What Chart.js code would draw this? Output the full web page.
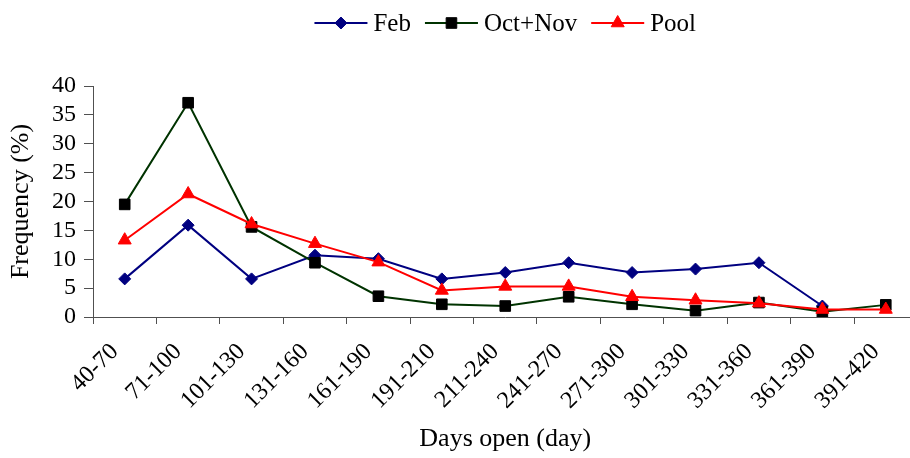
<!DOCTYPE html>
<html>
<head>
<meta charset="utf-8">
<script src="https://cdn.jsdelivr.net/npm/chart.js@4.4.0/dist/chart.umd.min.js"></script>
<style>
  html, body { margin: 0; padding: 0; background: #fff; overflow: hidden; }
  #wrap { width: 926px; height: 458px; }
</style>
</head>
<body>
<div id="wrap"><canvas id="chart" width="926" height="458"></canvas></div>
<script>
// --- Data ---
const categories = ['40-70', '71-100', '101-130', '131-160', '161-190', '191-210', '211-240',
                    '241-270', '271-300', '301-330', '331-360', '361-390', '391-420'];
const febValues    = [6.6, 15.9, 6.6, 10.7, 10.1, 6.6, 7.7, 9.4, 7.7, 8.3, 9.4, 1.9, null];
const octNovValues = [19.5, 37.1, 15.6, 9.4, 3.6, 2.2, 1.9, 3.5, 2.2, 1.1, 2.5, 0.9, 2.1];
const poolValues   = [13.3, 21.3, 16.1, 12.7, 9.5, 4.6, 5.3, 5.3, 3.5, 2.9, 2.4, 1.3, 1.3];
const yTickLabels  = [0, 5, 10, 15, 20, 25, 30, 35, 40];

const FONT = '"Liberation Serif", "Times New Roman", serif';
const AXIS_COLOR = '#505050';

// --- Helper: draw a marker like the chart's points ---
function drawMarker(ctx, style, r, x, y, fill, stroke) {
    ctx.beginPath();
    if (style === 'rectRot') {
        ctx.moveTo(x - r, y); ctx.lineTo(x, y - r); ctx.lineTo(x + r, y); ctx.lineTo(x, y + r);
    } else if (style === 'rect') {
        const s = Math.SQRT1_2 * r;
        ctx.rect(x - s, y - s, 2 * s, 2 * s);
    } else if (style === 'triangle') {
        ctx.moveTo(x, y - r);
        ctx.lineTo(x + Math.sin(2 * Math.PI / 3) * r, y + r / 2);
        ctx.lineTo(x - Math.sin(2 * Math.PI / 3) * r, y + r / 2);
    }
    ctx.closePath();
    ctx.fillStyle = fill;
    ctx.fill();
    ctx.lineWidth = 1;
    ctx.strokeStyle = stroke;
    ctx.stroke();
}

// --- Legend with line + marker, the old spreadsheet way ---
const lineLegend = {
    id: 'lineLegend',
    afterDraw(chart) {
        const ctx = chart.ctx;
        const area = chart.chartArea;
        const lineLen = 53, gapText = 6, gapItem = 14, y = 23;
        ctx.save();
        ctx.font = '25px ' + FONT;
        const items = chart.data.datasets.map(ds => ({ ds, w: ctx.measureText(ds.label).width }));
        const total = items.reduce((s, it) => s + lineLen + gapText + it.w, 0) + gapItem * (items.length - 1);
        let x = (area.left + area.right) / 2 - total / 2;
        items.forEach(it => {
            const ds = it.ds;
            ctx.beginPath();
            ctx.moveTo(x, y);
            ctx.lineTo(x + lineLen, y);
            ctx.lineWidth = ds.borderWidth;
            ctx.strokeStyle = ds.borderColor;
            ctx.stroke();
            drawMarker(ctx, ds.pointStyle, ds.pointRadius, x + lineLen / 2, y, ds.pointBackgroundColor, ds.pointBorderColor);
            ctx.fillStyle = '#000';
            ctx.textBaseline = 'middle';
            ctx.textAlign = 'left';
            ctx.fillText(ds.label, x + lineLen + gapText, y + 1);
            x += lineLen + gapText + it.w + gapItem;
        });
        ctx.restore();
    }
};

const ctx = document.getElementById('chart').getContext('2d');

new Chart(ctx, {
    type: 'line',
    data: {
        labels: categories,
        datasets: [
            {
                label: 'Feb',
                data: febValues,
                borderColor: '#000080',
                borderWidth: 2,
                pointStyle: 'rectRot',
                pointRadius: 6,
                pointBackgroundColor: '#000080',
                pointBorderColor: '#000080',
                pointBorderWidth: 1,
                tension: 0,
                order: 3
            },
            {
                label: 'Oct+Nov',
                data: octNovValues,
                borderColor: '#003300',
                borderWidth: 2,
                pointStyle: 'rect',
                pointRadius: 7.5,
                pointBackgroundColor: '#000000',
                pointBorderColor: '#000000',
                pointBorderWidth: 1,
                tension: 0,
                order: 2
            },
            {
                label: 'Pool',
                data: poolValues,
                borderColor: '#ff0000',
                borderWidth: 2,
                pointStyle: 'triangle',
                pointRadius: 7.5,
                pointBackgroundColor: '#ff0000',
                pointBorderColor: '#ff0000',
                pointBorderWidth: 1,
                tension: 0,
                order: 1
            }
        ]
    },
    options: {
        responsive: false,
        animation: false,
        layout: { padding: { top: 86, right: 6, left: 0, bottom: 0 } },
        plugins: {
            legend: { display: false },
            tooltip: { enabled: false }
        },
        scales: {
            x: {
                offset: true,
                grid: { offset: true, drawOnChartArea: false, drawTicks: true, tickLength: 7, color: AXIS_COLOR },
                border: { color: AXIS_COLOR, width: 1 },
                ticks: {
                    color: '#000',
                    font: { family: FONT, size: 24 },
                    minRotation: 45,
                    maxRotation: 45,
                    autoSkip: false,
                    labelOffset: -10,
                    padding: 14
                },
                title: {
                    display: true,
                    text: 'Days open (day)',
                    color: '#000',
                    font: { family: FONT, size: 26 },
                    padding: { top: 0, bottom: 3 }
                },
                afterFit(scale) { scale.height = 141; }
            },
            y: {
                min: yTickLabels[0],
                max: yTickLabels[yTickLabels.length - 1],
                grid: { drawOnChartArea: false, drawTicks: true, tickLength: 9, color: AXIS_COLOR },
                border: { color: AXIS_COLOR, width: 1 },
                ticks: {
                    stepSize: yTickLabels[1] - yTickLabels[0],
                    autoSkip: false,
                    color: '#000',
                    font: { family: FONT, size: 24 },
                    padding: 8
                },
                title: {
                    display: true,
                    text: 'Frequency (%)',
                    color: '#000',
                    font: { family: FONT, size: 26 },
                    padding: { top: 6, bottom: 0 }
                },
                afterFit(scale) { scale.width = 93; }
            }
        }
    },
    plugins: [lineLegend]
});
</script>
</body>
</html>
